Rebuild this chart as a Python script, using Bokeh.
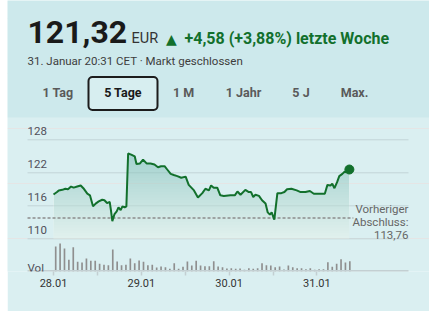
import numpy as np
from bokeh.plotting import figure
from bokeh.models import Range1d, FixedTicker, Label, BoxAnnotation
from bokeh.embed import file_html
from bokeh.resources import INLINE
from bokeh.core.properties import value

# ---------------- data ----------------
# time in half-hour slots since 28.01 open (20 slots per trading day)
price_t = [0, 0.8, 1.2, 2.0, 2.7, 3.3, 4.0, 4.6, 5.4, 6.2, 6.8, 7.7, 8.3, 9.0, 9.6,
           10.3, 11.1, 11.6, 12.2, 12.8, 13.1, 13.4, 13.9, 14.4, 14.8, 15.3, 15.7,
           16.2, 16.6, 17.0, 17.7, 18.5, 18.9, 19.7, 20.4, 21.2, 22.1, 23.0, 23.8,
           24.5, 25.3, 25.9, 26.7, 27.4, 28.2, 29.1, 30.1, 30.8, 32.0, 32.9, 33.9,
           34.6, 35.4, 35.9, 36.5, 37.3, 38.0, 38.8, 40.3, 41.3, 41.9, 42.6, 43.7,
           44.5, 45.0, 45.5, 46.0, 46.8, 47.5, 48.3, 48.8, 49.3, 49.7, 50.3, 51.0,
           51.9, 52.6, 53.2, 54.2, 55.4, 56.3, 57.4, 58.4, 59.3, 60.8, 61.8, 62.4,
           63.1, 63.5, 64.0, 64.6, 65.1, 65.8, 66.3, 66.7, 67.4]
price_v = [118.05, 118.5, 118.8, 118.9, 119.1, 119.0, 119.5, 119.3, 119.5, 119.7, 119.2,
           118.2, 117.9, 115.9, 116.4, 116.8, 117.1, 117.0, 116.5, 116.7, 115.1, 113.2,
           114.5, 115.0, 115.7, 115.2, 115.9, 115.7, 115.9, 125.5, 125.3, 125.0, 123.6,
           123.7, 124.4, 123.7, 123.7, 123.5, 123.0, 123.2, 123.2, 122.6, 121.8, 121.6,
           121.4, 121.1, 121.3, 119.8, 118.8, 117.5, 118.3, 119.1, 118.8, 119.7, 119.3,
           119.3, 117.9, 117.8, 117.9, 117.9, 118.6, 118.0, 118.9, 118.5, 118.5, 117.6,
           118.0, 117.8, 117.0, 116.4, 114.8, 114.4, 114.8, 113.5, 118.3, 118.3, 118.5,
           119.0, 119.1, 118.8, 118.5, 118.5, 118.7, 118.2, 118.2, 118.2, 119.8, 119.7,
           120.0, 119.2, 120.3, 121.4, 121.8, 122.2, 122.1, 122.6]
volume = [25, 28, 23, 11.7, 24.3, 9.7, 9, 13, 10.7, 10.7,
          7.7, 6.7, 6.3, 22, 10, 6.3, 6.7, 13, 8.3, 11,
          9.7, 6.3, 6.7, 4, 5, 4.3, 2.7, 8.3, 2.7, 4.7,
          10, 6, 10.7, 6, 5.3, 5.3, 10.3, 5, 4.3, 3,
          3.3, 2.7, 3, 1.7, 3.3, 2.7, 3.3, 8.3, 6.3, 6,
          4.3, 5, 2, 6, 4.3, 3.3, 3.3, 2.3, 3.3, 1.7,
          2.3, 2.3, 9.3, 4.7, 7.7, 12.3, 9, 10.3]
volume_t = [i + 0.5 for i in range(len(volume))]

prev_close = 113.76
prev_close_lines = ["Vorheriger", "Abschluss:", "113,76"]
price_ticks = [110, 116, 122, 128]
price_tick_labels = ["110", "116", "122", "128"]
day_ticks = [0, 20, 40, 60]
day_labels = ["28.01", "29.01", "30.01", "31.01"]
half_day_ticks = [10, 30, 50]

last_price = "121,32"
currency = "EUR"
change_text = "+4,58 (+3,88%) letzte Woche"
status_text = "31. Januar 20:31 CET \u00b7 Markt geschlossen"
periods = ["1 Tag", "5 Tage", "1 M", "1 Jahr", "5 J", "Max."]
selected_period = "5 Tage"

# ---------------- style / layout ----------------
HEADER_BG = "#cde9ec"
CHART_BG = "#daeff1"
GREEN = "#12702c"
FONT = "Roboto"
PAGE_LEFT = 7              # white page strip left of the card
W, H = 429 - PAGE_LEFT, 311
B_BOTTOM = 40
FRAME_BOTTOM = H - B_BOTTOM  # canvas y of frame bottom

# axis extents (data units)
x_lo, x_hi = -10.48, 85.65
plot_x0, plot_x1 = -5.92, 80.87   # extent of grid / axis line

p = figure(width=W, height=H, x_range=Range1d(x_lo, x_hi),
           y_range=Range1d(104.055, 153.327),
           output_backend="svg", toolbar_location=None, y_axis_location=None,
           min_border_left=0, min_border_right=0, min_border_top=0,
           min_border_bottom=B_BOTTOM, margin=(0, 0, 0, PAGE_LEFT),
           background_fill_color=CHART_BG, border_fill_color=CHART_BG,
           outline_line_color=None)
p.extra_y_ranges = {"vol": Range1d(0, FRAME_BOTTOM)}
p.xgrid.grid_line_color = None


def sx(x):  # card px -> frame-relative screen x
    return x - PAGE_LEFT


def sy(y):  # canvas px (from top) -> frame-relative screen y (up)
    return FRAME_BOTTOM - y


# header band
p.add_layout(BoxAnnotation(bottom=sy(117), bottom_units="screen",
                           fill_color=HEADER_BG, fill_alpha=1, line_color=None))
# selected period button
p.add_layout(BoxAnnotation(left=sx(88), right=sx(157), bottom=sy(109.5), top=sy(76.5),
                           left_units="screen", right_units="screen",
                           bottom_units="screen", top_units="screen",
                           fill_color="#d7eef0", fill_alpha=1,
                           line_color="#1c1c1c", line_alpha=1, line_width=2,
                           border_radius=4))


def lab(x, y, text, size, color, bold=False, align="left", font=FONT):
    # y = vertical centre of the text's cap height (canvas px)
    p.add_layout(Label(x=sx(x), y=sy(y), x_units="screen", y_units="screen",
                       text=text, text_font=font,
                       text_font_size=f"{size}px", text_color=color,
                       text_font_style="bold" if bold else "normal",
                       text_align=align, text_baseline="middle"))


lab(27, 31.7, last_price, 32, "#1a1a1a", bold=True)
lab(131, 37.5, currency, 14.5, "#333333")
lab(165.5, 38, "\u25b2", 14, GREEN, font="DejaVu Sans")
lab(184, 37.5, change_text, 16, GREEN, bold=True)
lab(27, 60, status_text, 11.5, "#3d3d3d")

period_x = [57.5, 122.5, 183, 243, 300.5, 354]
for px_, name in zip(period_x, periods):
    sel = name == selected_period
    lab(px_, 92.3, name, 12.5, "#1a1a1a" if sel else "#5a5a5a", bold=True, align="center")

# ---------------- chart ----------------
p.segment(x0=[plot_x0] * len(price_ticks), x1=[plot_x1] * len(price_ticks),
          y0=price_ticks, y1=price_ticks, line_color="#c2d4d7", line_width=1)

t = np.array(price_t)
pv = np.array(price_v)
p.varea(x=t, y1=price_ticks[0], y2=pv, fill_color="#eaf4ec", fill_alpha=0.5)
for lev in np.arange(price_ticks[0], 126, 0.5):
    p.varea(x=t, y1=lev, y2=np.maximum(pv, lev), fill_color="#1f7a45",
            fill_alpha=0.009)

p.segment(x0=[plot_x0], y0=[prev_close], x1=[price_t[-1] + 0.9], y1=[prev_close],
          line_color="#8c8c8c", line_width=1.5, line_dash="3 2")

p.line(price_t, price_v, line_color=GREEN, line_width=2)
p.scatter([price_t[-1]], [price_v[-1]], size=9, color=GREEN)

p.vbar(x=volume_t, top=volume, width=0.38, y_range_name="vol",
       fill_color="#8f8f8f", line_color=None)
# volume baseline (half clipped at frame bottom)
p.segment(x0=[plot_x0], x1=[plot_x1], y0=[0], y1=[0], y_range_name="vol",
          line_color="#c3cfd2", line_width=3)

p.text(x=[plot_x0] * len(price_ticks), y=price_ticks, text=price_tick_labels,
       text_font=value(FONT), text_font_size="11.5px", text_color="#50505a",
       text_baseline="middle", y_offset=-8.5)
p.text(x=[plot_x0], y=[0], text=["Vol"], y_range_name="vol",
       text_font=value(FONT), text_font_size="11.5px", text_color="#50505a",
       text_baseline="middle", y_offset=-4)
p.text(x=[plot_x1] * 3, y=[prev_close] * 3, text=prev_close_lines,
       text_font=value(FONT), text_font_size="11.5px", text_color="#666666",
       text_align="right", text_baseline="middle",
       y_offset=[-9.6, 4.1, 16.6])

xa = p.xaxis[0]
xa.ticker = FixedTicker(ticks=day_ticks, minor_ticks=half_day_ticks)
xa.major_label_overrides = dict(zip(day_ticks, day_labels))
xa.axis_line_color = None
xa.major_tick_line_color = "#c3cfd2"
xa.minor_tick_line_color = "#c3cfd2"
xa.major_tick_line_width = 1.5
xa.minor_tick_line_width = 1.5
xa.major_tick_in = 0
xa.major_tick_out = 4
xa.minor_tick_in = 0
xa.minor_tick_out = 4
xa.major_label_standoff = 3
xa.major_label_text_font = FONT
xa.major_label_text_font_size = "11px"
xa.major_label_text_color = "#333333"

open("out.html", "w").write(file_html(p, INLINE))
